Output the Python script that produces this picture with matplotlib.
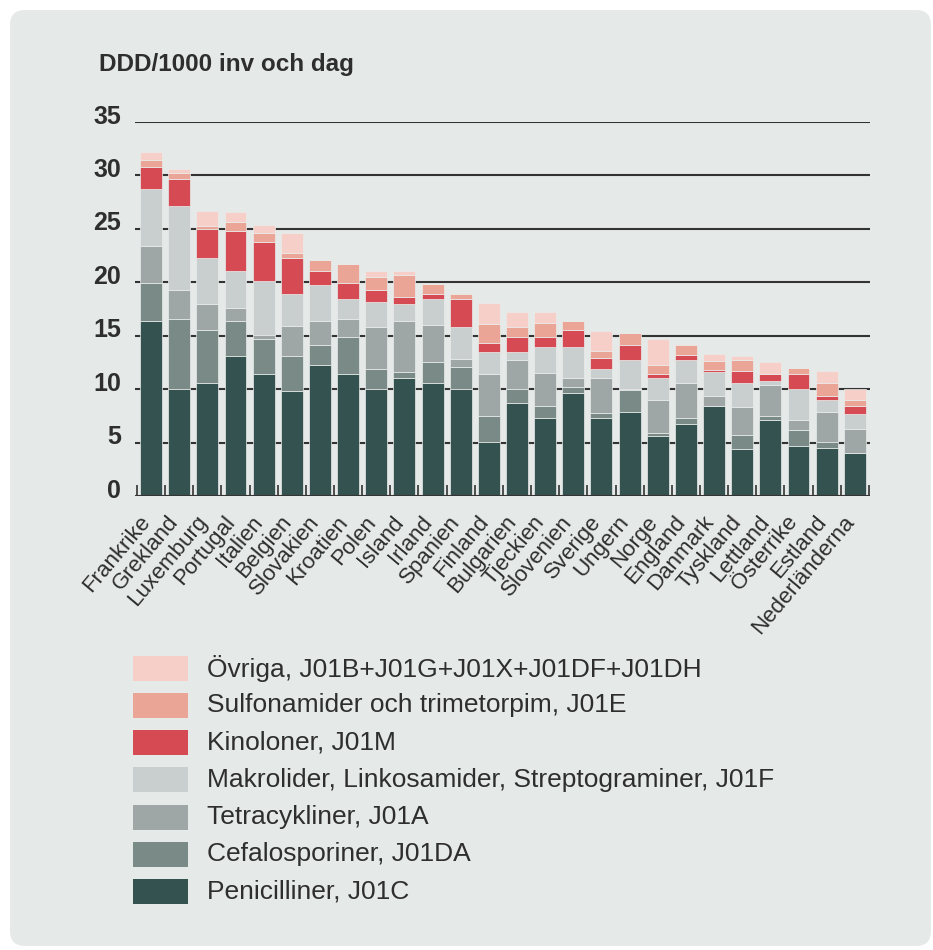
import matplotlib.pyplot as plt
import numpy as np
from matplotlib.patches import FancyBboxPatch, Rectangle
from matplotlib.transforms import ScaledTranslation

plt.rcParams["font.family"] = ["Liberation Sans", "DejaVu Sans"]

countries = ["Frankrike", "Grekland", "Luxemburg", "Portugal", "Italien", "Belgien",
             "Slovakien", "Kroatien", "Polen", "Island", "Irland", "Spanien", "Finland",
             "Bulgarien", "Tjeckien", "Slovenien", "Sverige", "Ungern", "Norge",
             "England", "Danmark", "Tyskland", "Lettland", "Österrike", "Estland",
             "Nederländerna"]

penicilliner = [16.4, 10.0, 10.6, 13.1, 11.4, 9.8, 12.3, 11.4, 10.0, 11.0, 10.6, 10.0, 5.1,
                8.7, 7.3, 9.6, 7.3, 7.9, 5.6, 6.7, 8.4, 4.4, 7.1, 4.7, 4.5, 4.0]
cefalosporiner = [3.5, 6.6, 4.9, 3.3, 3.3, 3.3, 1.8, 3.5, 1.9, 0.6, 1.9, 2.1, 2.4,
                  1.3, 1.1, 0.6, 0.5, 2.0, 0.3, 0.6, 0.0, 1.3, 0.4, 1.5, 0.6, 0.0]
tetracykliner = [3.5, 2.7, 2.5, 1.2, 0.4, 2.8, 2.3, 1.7, 3.9, 4.8, 3.5, 0.7, 3.9,
                 2.7, 3.1, 0.8, 3.2, 0.1, 3.1, 3.3, 1.0, 2.6, 2.9, 0.9, 2.8, 2.3]
makrolider = [5.3, 7.8, 4.3, 3.5, 5.0, 3.0, 3.3, 1.8, 2.4, 1.6, 2.4, 3.0, 2.1,
              0.8, 2.4, 2.9, 0.9, 2.7, 2.0, 2.1, 2.2, 2.3, 0.4, 2.9, 1.1, 1.4]
kinoloner = [2.1, 2.6, 2.7, 3.7, 3.7, 3.4, 1.4, 1.5, 1.1, 0.6, 0.5, 2.6, 0.8,
             1.4, 1.0, 1.6, 1.0, 1.4, 0.4, 0.5, 0.2, 1.1, 0.6, 1.4, 0.4, 0.7]
sulfonamider = [0.6, 0.5, 0.3, 0.8, 0.8, 0.4, 1.0, 1.8, 1.2, 2.1, 0.9, 0.5, 1.8,
                0.9, 1.3, 0.9, 0.7, 1.2, 0.9, 0.9, 0.8, 1.0, 0.0, 0.6, 1.2, 0.6]
ovriga = [0.8, 0.4, 1.4, 1.0, 0.8, 1.9, 0.0, 0.0, 0.6, 0.4, 0.0, 0.1, 2.0,
          1.4, 1.0, 0.0, 1.8, 0.0, 2.4, 0.1, 0.7, 0.4, 1.1, 0.0, 1.1, 1.0]

groups = [
    ("Penicilliner, J01C", penicilliner, "#34524f"),
    ("Cefalosporiner, J01DA", cefalosporiner, "#7a8a86"),
    ("Tetracykliner, J01A", tetracykliner, "#9fa7a6"),
    ("Makrolider, Linkosamider, Streptograminer, J01F", makrolider, "#c9cfce"),
    ("Kinoloner, J01M", kinoloner, "#d54a53"),
    ("Sulfonamider och trimetorpim, J01E", sulfonamider, "#eba597"),
    ("Övriga, J01B+J01G+J01X+J01DF+J01DH", ovriga, "#f6cfc9"),
]

TXT = "#2e2e2e"
W, H = 933, 950
fig = plt.figure(figsize=(W / 100, H / 100), dpi=100)
fig.patch.set_facecolor("white")

# rounded grey panel behind everything
panel = FancyBboxPatch((0.10, 0.04), 9.21, 9.36, boxstyle="round,pad=0,rounding_size=0.15",
                       transform=fig.dpi_scale_trans, facecolor="#e5e9e7", edgecolor="none",
                       zorder=-5)
fig.patches.append(panel)

ax = fig.add_axes([135 / W, 1 - 496 / H, 735 / W, 374 / H])
ax.set_zorder(2)
ax.set_facecolor("none")
x = np.arange(len(countries))
bottom = np.zeros(len(countries))
for label, vals, color in groups:
    vals = np.array(vals)
    ax.bar(x, vals, width=0.78, bottom=bottom, color=color, edgecolor="#e9eceb",
           linewidth=0.5, zorder=3)
    bottom += vals

ax.set_xlim(-0.57, len(countries) - 0.46)
ax.set_ylim(0, 35)
for s in ax.spines.values():
    s.set_visible(False)
ax.set_yticks(range(0, 36, 5))
for yv in range(5, 36, 5):
    ax.axhline(yv, color="#333333", lw=1.5, zorder=1)
ax.axhline(0, color="#333333", lw=1.5, zorder=4)
ax.tick_params(axis="y", length=0, pad=10, labelsize=18, labelcolor=TXT)
for t in ax.get_yticklabels():
    t.set_fontweight("bold")
    t.set_transform(t.get_transform() + ScaledTranslation(0, 0.08, fig.dpi_scale_trans))

# small ticks in the gaps between the bars
ax.set_xticks(np.arange(-0.5, len(countries)), minor=True)
ax.tick_params(axis="x", which="minor", direction="in", length=8, width=1.2, color="#333333")
ax.set_xticks(x)
ax.tick_params(axis="x", which="major", length=0)
ax.set_xticklabels([])
for xi, name in zip(x, countries):
    ax.text(xi, 0, name, rotation=50, rotation_mode="anchor", ha="right", va="baseline",
            fontsize=16, color=TXT,
            transform=ax.transData + ScaledTranslation(0, -0.26, fig.dpi_scale_trans))

fig.text(99 / W, 1 - 64 / H, "DDD/1000 inv och dag", fontsize=17.5, fontweight="bold",
         color=TXT, va="center", ha="left")

# legend, top entry is the last stacked group
for k, (label, vals, color) in enumerate(reversed(groups)):
    cy = 668 + k * 37.3
    fig.patches.append(Rectangle((133 / W, 1 - (cy + 12.5) / H), 55 / W, 25 / H,
                                 transform=fig.transFigure, facecolor=color,
                                 edgecolor="none"))
    fig.text(207 / W, 1 - cy / H, label, fontsize=19, color=TXT, va="center", ha="left")

fig.savefig("out.png", dpi=100, facecolor=fig.get_facecolor())
